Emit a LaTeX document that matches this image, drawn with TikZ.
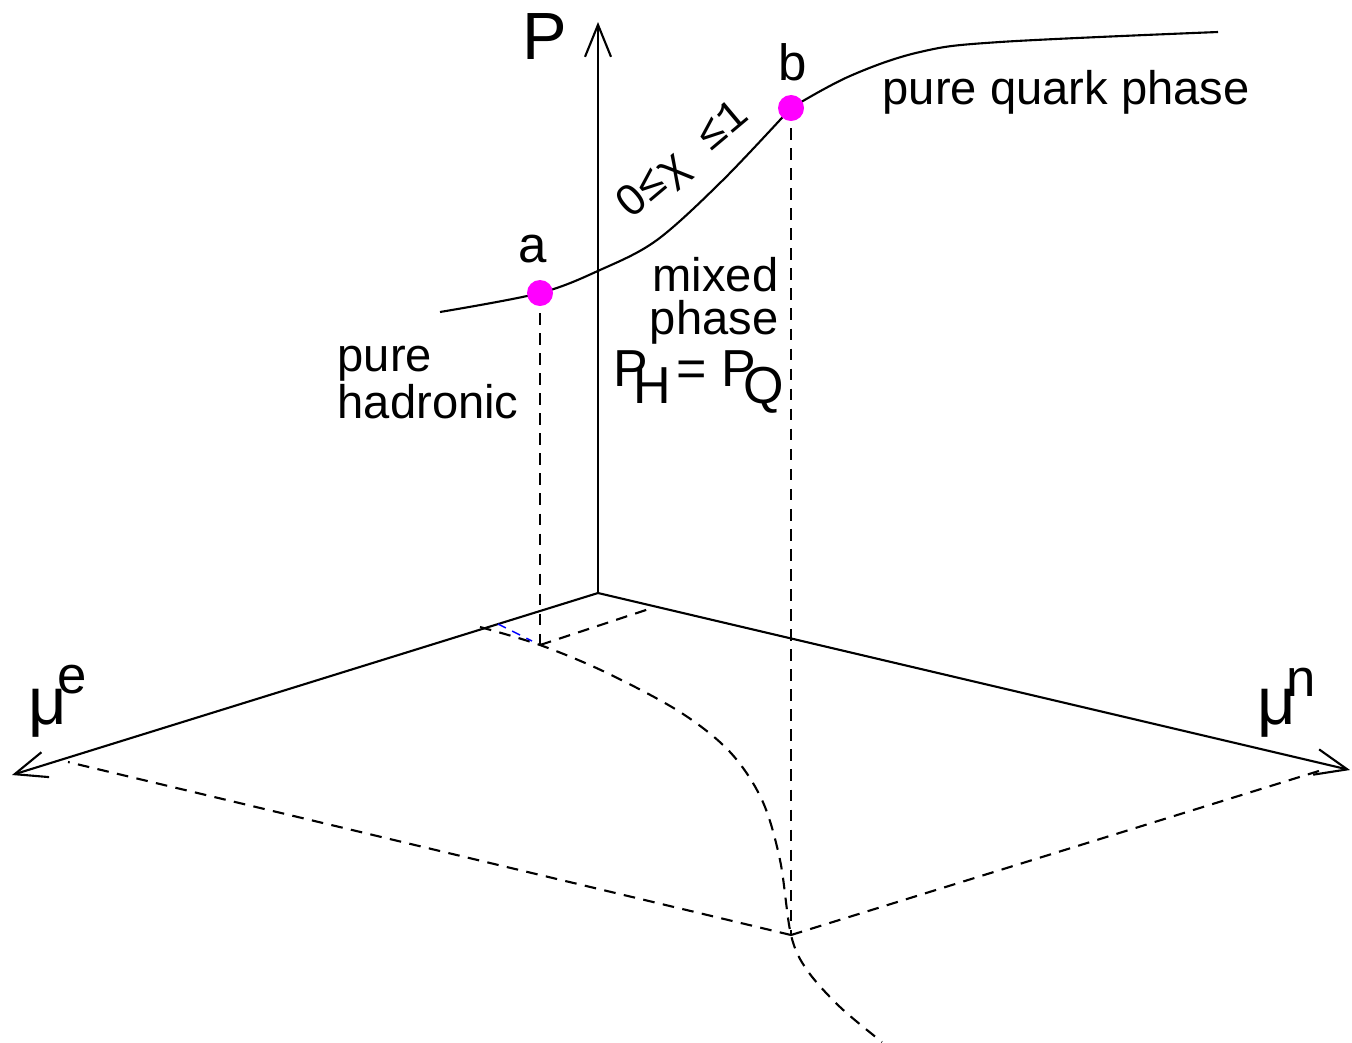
\documentclass[tikz,border=0pt]{standalone}
\usepackage{fontspec}
\setmainfont{Liberation Sans}
\newfontfamily\monofnt{Liberation Mono}
\usetikzlibrary{arrows.meta}
\definecolor{dotmag}{RGB}{255,0,255}
\begin{document}
\begin{tikzpicture}[x=0.01cm,y=-0.01cm,
  ax/.style={line width=0.6pt,-{Straight Barb[length=3.2mm,width=2.6mm,line width=0.6pt]}},
  dsh/.style={line width=0.6pt,dash pattern=on 3.3pt off 2.4pt},
  dot/.style={circle,fill=dotmag,inner sep=0pt,minimum size=0.26cm},
  lbl/.style={inner sep=0pt,font=\fontsize{13.4}{12.2}\selectfont},
  big/.style={inner sep=0pt,font=\fontsize{19}{19}\selectfont}]
\useasboundingbox (0,0) rectangle (1352,1042);
% axes
\coordinate (O) at (598,593);
\coordinate (Ptip) at (598,22);
\coordinate (Etip) at (12,775);
\coordinate (Ntip) at (1350,770);
\draw[ax] (O) -- (Ptip);
\draw[ax] (O) -- (Etip);
\draw[ax] (O) -- (Ntip);
% points
\coordinate (fa) at (540,645);
\coordinate (fb) at (791,935);
\coordinate (ea) at (480,627);
\coordinate (na) at (652,608);
\coordinate (eb) at (68,762);
\coordinate (nb) at (1322,770);
\coordinate (pa) at (540,293);
\coordinate (pb) at (791,108);
% phase curve
\draw[line width=0.6pt] plot[smooth,tension=0.55] coordinates
 {(440,312) (pa) (600,270) (657,240) (723,180) (pb)};
\draw[line width=0.6pt] plot[smooth,tension=0.6] coordinates
 {(pb) (850,76) (920,52) (1000,42) (1218,32)};
% dashed projections
\draw[dsh] (pa) -- (fa);
\draw[dsh] (pb) -- (fb);
\draw[dsh] (fa) -- (na);
\draw[dsh] (fb) -- (eb);
\draw[dsh] (fb) -- (nb);
\draw[dsh] plot[smooth,tension=0.55] coordinates
 {(ea) (fa) (605,672) (680,712) (730,752) (762,800) (780,860) (fb) (807,970) (840,1007) (882,1042)};
\draw[blue,line width=0.4pt,dash pattern=on 2.5pt off 2pt] (498,624) -- (532,641);
\node[dot] (a) at (pa) {};
\node[dot] (b) at (pb) {};
% labels
\node[big] (Plbl) at (545,37) {P};
\node[lbl,font=\fontsize{14.5}{14}\selectfont] (alb) at (533,249) {a};
\node[lbl,font=\fontsize{14.5}{14}\selectfont] (blb) at (793,62) {b};
\node[lbl,anchor=west] (quark) at (882,92) {pure quark phase};
\node[lbl,anchor=north west,align=left] (hadr) at (337,345) {pure\\hadronic};
\node[lbl,anchor=north east,align=right] (mixed) at (779,257) {mixed\\phase};
\node[lbl,anchor=west,font=\fontsize{14.8}{15}\selectfont] (eq) at (613,382) {P\kern-0.28em\raisebox{-0.33em}{H}\kern0.1em=\kern0.27em P\kern-0.24em\raisebox{-0.33em}{Q}};
\node[inner sep=0pt,rotate=40,font=\monofnt\fontsize{12.5}{12}\selectfont] (chi) at (684,161) {{\normalfont 0}≤χ ≤1};
\node[big] (mue) at (48,713) {μ};
\node[lbl,font=\fontsize{15}{15}\selectfont] (mues) at (72,680) {e};
\node[big] (mun) at (1277,713) {μ};
\node[lbl,font=\fontsize{15}{15}\selectfont] (muns) at (1301,682) {n};
\end{tikzpicture}
\end{document}
